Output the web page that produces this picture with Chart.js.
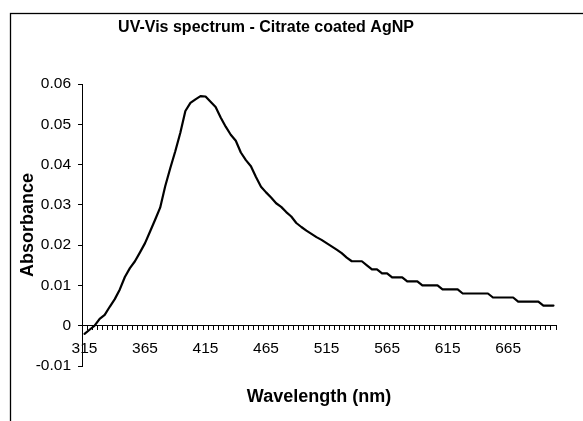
<!DOCTYPE html>
<html>
<head>
<meta charset="utf-8">
<script src="https://cdn.jsdelivr.net/npm/chart.js@4/dist/chart.umd.min.js"></script>
<style>
  html, body { margin: 0; padding: 0; background: #ffffff; }
  #wrap { width: 583px; height: 421px; position: relative; }
</style>
</head>
<body>
<div id="wrap"><canvas id="c" width="583" height="421"></canvas></div>
<script>
// ---- data ----
const chartTitle = "UV-Vis spectrum - Citrate coated AgNP";
const xAxisTitle = "Wavelength (nm)";
const yAxisTitle = "Absorbance";

const wavelengths = [
  315,319,323,328,332,336,340,344,348,353,357,361,
  365,369,373,378,382,386,390,394,398,403,407,411,
  415,419,423,428,432,436,440,444,448,453,457,461,
  465,469,473,478,482,486,490,494,498,503,507,511,
  515,519,523,528,532,536,540,544,548,553,557,561,
  565,569,573,578,582,586,590,594,598,603,607,611,
  615,619,623,628,632,636,640,644,648,653,657,661,
  665,669,673,678,682,686,690,694,698,703
];

const absorbance = [
  -0.002,-0.001,0.000,0.0017,0.0027,0.0047,0.0066,0.0090,0.0121,0.0143,0.0160,0.0182,
  0.0205,0.0234,0.0263,0.0293,0.0346,0.0391,0.0433,0.0479,0.0533,0.0553,0.0562,0.0570,
  0.0569,0.0556,0.0543,0.0517,0.0494,0.0474,0.0459,0.0430,0.0411,0.0396,0.0369,0.0345,
  0.0331,0.0318,0.0304,0.0295,0.0282,0.0271,0.0255,0.0245,0.0236,0.0228,0.0220,0.0213,
  0.0205,0.0197,0.0189,0.0180,0.0169,0.016,0.016,0.016,0.015,0.014,0.014,0.013,
  0.013,0.012,0.012,0.012,0.011,0.011,0.011,0.010,0.010,0.010,0.010,0.009,
  0.009,0.009,0.009,0.008,0.008,0.008,0.008,0.008,0.008,0.007,0.007,0.007,
  0.007,0.007,0.006,0.006,0.006,0.006,0.006,0.005,0.005,0.005
];

const xTickLabels = ["315","365","415","465","515","565","615","665"];
const yMin = -0.01, yMax = 0.06, yStep = 0.01;

// ---- decorations drawn as text on the canvas ----
const FONT = "'Liberation Sans', Arial, sans-serif";
const decorations = {
  id: 'decorations',
  beforeDraw(chart) {
    const ctx = chart.ctx;
    ctx.save();
    ctx.strokeStyle = '#000';
    ctx.lineWidth = 1.3;
    ctx.strokeRect(10.5, 13.5, 1000, 1000);
    ctx.restore();
  },
  afterDraw(chart) {
    const ctx = chart.ctx;
    ctx.save();
    ctx.fillStyle = '#000';
    ctx.textAlign = 'center';
    ctx.textBaseline = 'alphabetic';
    ctx.font = 'bold 16px ' + FONT;
    ctx.fillText(chartTitle, 266, 31.5);
    ctx.font = 'bold 18px ' + FONT;
    const ca = chart.chartArea;
    ctx.fillText(xAxisTitle, (ca.left + ca.right) / 2, 402);
    ctx.translate(33.3, 225);
    ctx.rotate(-Math.PI / 2);
    ctx.fillText(yAxisTitle, 0, 0);
    ctx.restore();
  }
};

new Chart(document.getElementById('c'), {
  type: 'line',
  data: {
    labels: wavelengths,
    datasets: [{
      data: absorbance,
      borderColor: '#000',
      borderWidth: 2.2,
      pointRadius: 0,
      tension: 0,
      fill: false,
      borderJoinStyle: 'round',
      borderCapStyle: 'round'
    }]
  },
  options: {
    responsive: false,
    animation: false,
    devicePixelRatio: 1,
    layout: { padding: { left: 10, top: 84, right: 27, bottom: 55 } },
    plugins: { legend: { display: false }, title: { display: false }, tooltip: { enabled: false } },
    scales: {
      x: {
        type: 'category',
        position: { y: 0 },
        offset: true,
        grid: { drawOnChartArea: false, drawTicks: true, tickLength: 4, offset: true, color: '#000', lineWidth: 1 },
        border: { display: true, color: '#000', width: 1 },
        ticks: {
          autoSkip: false,
          maxRotation: 0,
          padding: 10,
          color: '#000',
          font: { family: FONT, size: 15.5 },
          callback: function (value, index) {
            const lab = String(this.getLabelForValue(value));
            return xTickLabels.includes(lab) ? lab : '';
          }
        }
      },
      y: {
        type: 'linear',
        position: 'left',
        min: yMin,
        max: yMax,
        afterFit: (scale) => { scale.width = 72; },
        grid: { drawOnChartArea: false, drawTicks: true, tickLength: 4, color: '#000', lineWidth: 1 },
        border: { display: true, color: '#000', width: 1 },
        ticks: {
          stepSize: yStep,
          padding: 7,
          color: '#000',
          font: { family: FONT, size: 15.5 },
          callback: (v) => String(Number(v.toFixed(2)))
        }
      }
    }
  },
  plugins: [decorations]
});
</script>
</body>
</html>
